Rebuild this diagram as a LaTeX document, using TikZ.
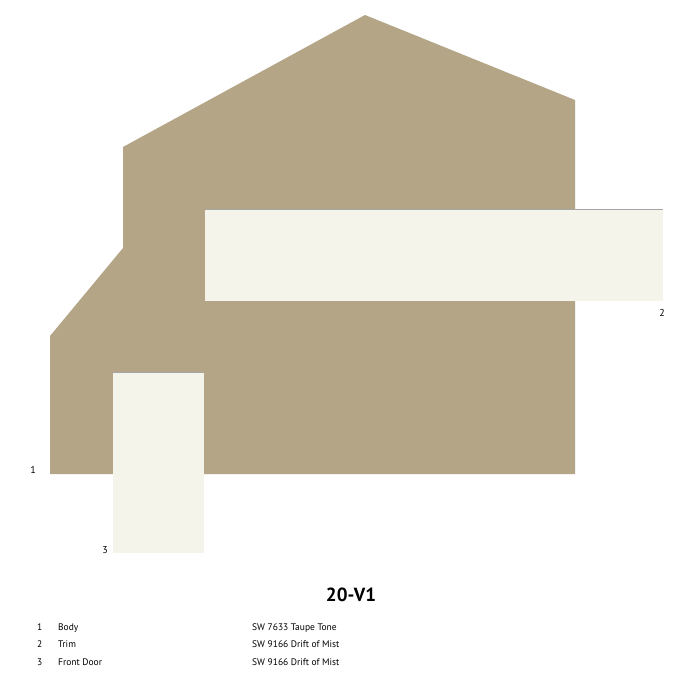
\documentclass[tikz,border=0pt]{standalone}
\usepackage{fontspec}
\setmainfont{PT Sans}
\definecolor{taupe}{RGB}{180,165,135}
\definecolor{mist}{RGB}{245,244,234}
\begin{document}
\begin{tikzpicture}[x=1pt,y=-1pt,
  swatch/.style={fill=mist,draw=none},
  lbl/.style={inner sep=0pt,font=\fontsize{10}{11}\selectfont},
  leg/.style={inner sep=0pt,anchor=base west,font=\fontsize{9.5}{11}\selectfont}]
\useasboundingbox[fill=white] (0,0) rectangle (693,700);
% body
\fill[taupe] (50,474) -- (50,336) -- (123,248) -- (123,147) -- (365,15) -- (575,100) -- (575,474) -- cycle;
% trim
\fill[mist] (205,209) rectangle (663,301);
\draw[gray!70,line width=0.6pt] (205,209) -- (663,209);
% door
\fill[mist] (113,372) rectangle (204,553);
\draw[gray!70,line width=0.5pt] (113,372) -- (204,372);
% labels
\node[lbl] (l1) at (33,470) {1};
\node[lbl] (l2) at (662,313) {2};
\node[lbl] (l3) at (105,550) {3};
% title
\node[inner sep=0pt,font=\fontsize{19}{22}\selectfont\bfseries] (title) at (351,595) {20-V1};
% legend
\node[leg] (n1) at (37,630) {1};
\node[leg] (b1) at (58,630) {Body};
\node[leg] (c1) at (252,630) {SW 7633 Taupe Tone};
\node[leg] (n2) at (37,647) {2};
\node[leg] (b2) at (58,647) {Trim};
\node[leg] (c2) at (252,647) {SW 9166 Drift of Mist};
\node[leg] (n3) at (37,665) {3};
\node[leg] (b3) at (58,665) {Front Door};
\node[leg] (c3) at (252,665) {SW 9166 Drift of Mist};
\end{tikzpicture}
\end{document}
